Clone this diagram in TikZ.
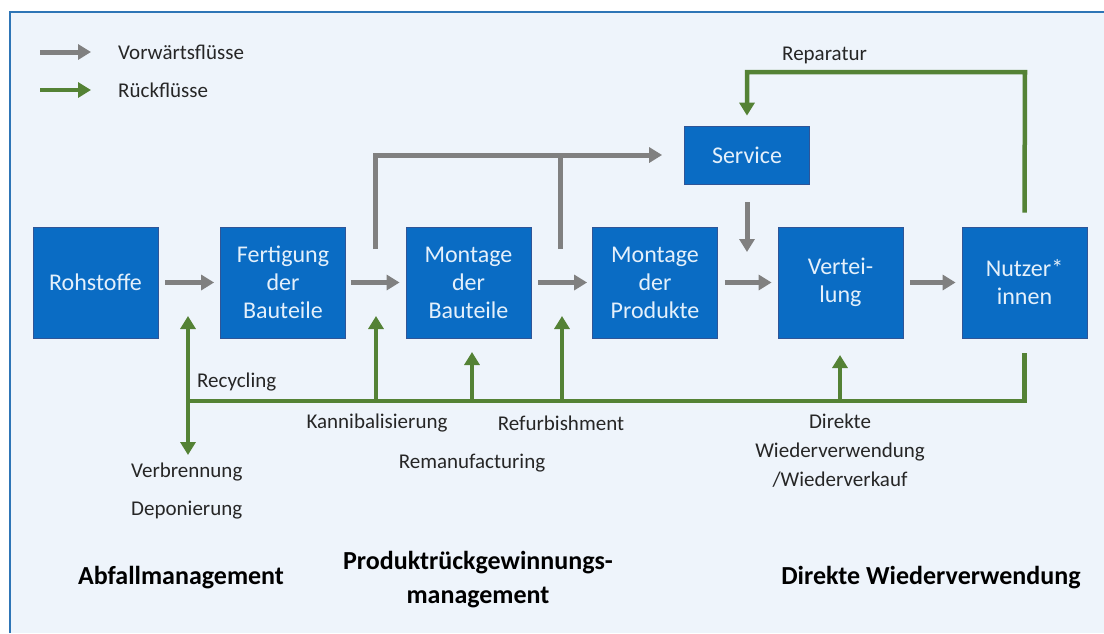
\documentclass[tikz,border=0pt]{standalone}
\usepackage{fontspec}
\setmainfont{Carlito}
\usetikzlibrary{arrows.meta,calc}

\definecolor{bgblue}{HTML}{EEF4FB}
\definecolor{frameblue}{HTML}{2E75B6}
\definecolor{boxblue}{HTML}{0A6CC4}
\definecolor{boxedge}{HTML}{2F5597}
\definecolor{boxtext}{HTML}{E4F0FB}
\definecolor{flowgray}{HTML}{808080}
\definecolor{flowgreen}{HTML}{548235}
\definecolor{labeltext}{HTML}{262626}

\tikzset{
  box/.style={draw=boxedge, line width=0.8pt, fill=boxblue, text=boxtext,
    minimum width=125pt, minimum height=111pt, inner sep=0pt, align=center,
    font=\fontsize{24}{28}\selectfont},
  fwd/.style={draw=flowgray, line width=5pt, -{Triangle[length=13pt,width=15pt]}},
  fwdline/.style={draw=flowgray, line width=5pt},
  back/.style={draw=flowgreen, line width=4.5pt, -{Triangle[length=13pt,width=15pt]}},
  backline/.style={draw=flowgreen, line width=4.5pt},
  lbl/.style={text=labeltext, inner sep=0pt, align=center,
    font=\fontsize{21}{29}\selectfont},
  head/.style={text=black, inner sep=0pt, align=center,
    font=\bfseries\fontsize{26}{34}\selectfont},
}

\begin{document}
\begin{tikzpicture}[x=1pt,y=-1pt]
  \useasboundingbox (0,0) rectangle (1104,633);
  % background and frame
  \fill[bgblue] (10,12) rectangle (1104,633);
  \draw[frameblue, line width=2.5pt] (10,633) -- (10,12) -- (1104,12);

  % legend
  \coordinate (lg1a) at (40,52);
  \coordinate (lg1b) at (91,52);
  \coordinate (lg2a) at (40,90);
  \coordinate (lg2b) at (91,90);
  \draw[fwd] (lg1a) -- (lg1b);
  \draw[back] (lg2a) -- (lg2b);
  \node[lbl, anchor=west] (lgf) at (118,52) {Vorwärtsflüsse};
  \node[lbl, anchor=west] (lgr) at (118,90) {Rückflüsse};

  % process boxes
  \node[box] (roh) at (95.5,282.5) {Rohstoffe};
  \node[box] (fer) at (283,282.5) {Fertigung\\der\\Bauteile};
  \node[box] (mbt) at (468.5,282.5) {Montage\\der\\Bauteile};
  \node[box] (mpr) at (655,282.5) {Montage\\der\\Produkte};
  \node[box] (ver) at (840.5,282.5) {Vertei-\\lung};
  \node[box] (nut) at (1024.5,282.5) {Nutzer*\\innen};
  \node[box, minimum height=58pt] (svc) at (747,155) {Service};

  % forward flows
  \draw[fwd, shorten <=7pt, shorten >=6pt] (roh.east) -- (fer.west);
  \draw[fwd, shorten <=5pt, shorten >=6pt] (fer.east) -- (mbt.west);
  \draw[fwd, shorten <=7pt, shorten >=5pt] (mbt.east) -- (mpr.west);
  \draw[fwd, shorten <=7pt, shorten >=6pt] (mpr.east) -- (ver.west);
  \draw[fwd, shorten <=7pt, shorten >=6pt] (ver.east) -- (nut.west);

  \coordinate (j1) at (375,249);
  \coordinate (j2) at (560,249);
  \coordinate (sv) at (747,252);
  \draw[fwd, shorten >=22pt] (j1) |- (svc.west);
  \draw[fwdline] (j2) -- (j2 |- svc.west);
  \draw[fwd, shorten <=18pt] (svc.south) -- (sv);

  % return flows
  \coordinate (rl) at (188,401);
  \coordinate (dep) at (188,455);
  \draw[backline] ([yshift=-15pt]nut.south) -- (nut.south |- rl) -- (rl);
  \draw[back] (rl) -- (dep);
  \foreach \x/\y in {188/316, 376/316, 472/352, 562/316, 840/355}
    \draw[back] (\x,401) -- (\x,\y);
  \coordinate (rp) at (1025,72);
  \draw[back, shorten >=10pt] ([yshift=14pt]nut.north) -- (rp) -| (svc.north);

  % labels
  \node[lbl, anchor=west] (rep) at (782,55) {Reparatur};
  \node[lbl, anchor=west] (rec) at (197,382) {Recycling};
  \node[lbl] (kan) at (377,423) {Kannibalisierung};
  \node[lbl] (ref) at (561,423) {Refurbishment};
  \node[lbl] (rem) at (472,463) {Remanufacturing};
  \node[lbl, anchor=west] (vbr) at (131,472) {Verbrennung};
  \node[lbl, anchor=west] (dpn) at (131,510) {Deponierung};
  \node[lbl, anchor=north] (dwv) at (840,414) {Direkte\\Wiederverwendung\\/Wiederverkauf};

  % areas
  \node[head] (abf) at (181,578) {Abfallmanagement};
  \node[head] (prm) at (478,580) {Produktrückgewinnungs-\\management};
  \node[head] (dir) at (931,578) {Direkte Wiederverwendung};
\end{tikzpicture}
\end{document}
